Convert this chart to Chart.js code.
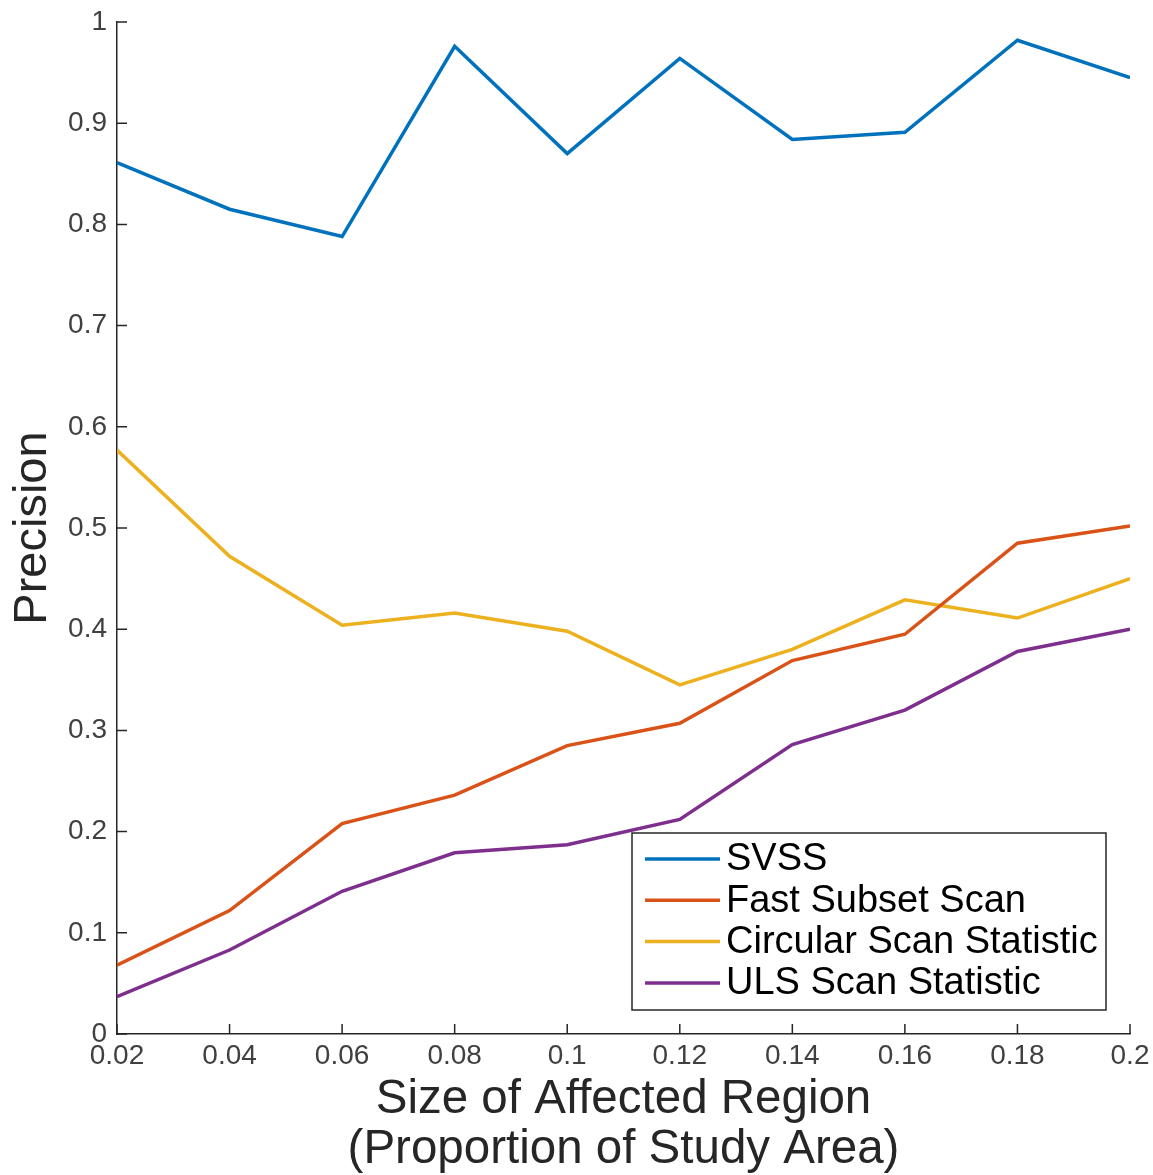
<!DOCTYPE html>
<html>
<head>
<meta charset="utf-8">
<script src="https://cdn.jsdelivr.net/npm/chart.js@4.4.1/dist/chart.umd.min.js"></script>
<style>
  html, body { margin: 0; padding: 0; background: #ffffff; }
  #wrap { width: 1153px; height: 1175px; }
</style>
</head>
<body>
<div id="wrap"><canvas id="c" width="1153" height="1175"></canvas></div>
<script>
// ---- data ----
const sizes = [0.02, 0.04, 0.06, 0.08, 0.10, 0.12, 0.14, 0.16, 0.18, 0.20];
const svss = [0.861, 0.815, 0.788, 0.976, 0.870, 0.964, 0.884, 0.891, 0.982, 0.945];
const fastSubsetScan = [0.068, 0.122, 0.208, 0.236, 0.285, 0.307, 0.369, 0.395, 0.485, 0.502];
const circularScan = [0.577, 0.472, 0.404, 0.416, 0.398, 0.345, 0.380, 0.429, 0.411, 0.450];
const ulsScan = [0.037, 0.083, 0.141, 0.179, 0.187, 0.212, 0.286, 0.320, 0.378, 0.400];
const seriesNames = ['SVSS', 'Fast Subset Scan', 'Circular Scan Statistic', 'ULS Scan Statistic'];
const xTickValues = [0.02, 0.04, 0.06, 0.08, 0.1, 0.12, 0.14, 0.16, 0.18, 0.2];
const xTickLabels = ['0.02', '0.04', '0.06', '0.08', '0.1', '0.12', '0.14', '0.16', '0.18', '0.2'];
const yTickValues = [0, 0.1, 0.2, 0.3, 0.4, 0.5, 0.6, 0.7, 0.8, 0.9, 1];
const yTickLabels = ['0', '0.1', '0.2', '0.3', '0.4', '0.5', '0.6', '0.7', '0.8', '0.9', '1'];
const xTitle = ['Size of Affected Region', '(Proportion of Study Area)'];
const yTitle = 'Precision';

// ---- styling ----
const colors = ['#0072BD', '#D95319', '#EDB120', '#7E2F8E'];
const FONT = '"Liberation Sans", Arial, Helvetica, sans-serif';
const AXIS_COLOR = '#262626';

const seriesValues = [svss, fastSubsetScan, circularScan, ulsScan];
const datasets = seriesValues.map((vals, i) => ({
  label: seriesNames[i],
  data: sizes.map((s, j) => ({ x: s, y: vals[j] })),
  borderColor: colors[i],
  backgroundColor: colors[i],
  borderWidth: 3.5,
  pointRadius: 0,
  tension: 0,
  fill: false
}));

// inward tick marks drawn through the scales
const innerTicks = {
  id: 'innerTicks',
  afterDatasetsDraw(chart) {
    const ctx = chart.ctx;
    const xs = chart.scales.x, ys = chart.scales.y;
    const len = 10;
    ctx.save();
    ctx.strokeStyle = AXIS_COLOR;
    ctx.lineWidth = 1.5;
    ctx.beginPath();
    xTickValues.forEach(v => {
      const px = xs.getPixelForValue(v);
      ctx.moveTo(px, ys.bottom);
      ctx.lineTo(px, ys.bottom - len);
    });
    yTickValues.forEach(v => {
      const py = ys.getPixelForValue(v);
      ctx.moveTo(xs.left, py);
      ctx.lineTo(xs.left + len, py);
    });
    ctx.stroke();
    ctx.restore();
  }
};

// MATLAB-like boxed legend inside the plot area (lower right)
const boxLegend = {
  id: 'boxLegend',
  afterDraw(chart) {
    const ctx = chart.ctx;
    const area = chart.chartArea;
    const w = 474, rowH = 41.3, h = 177;
    const right = area.right - 24, bottom = area.bottom - 24;
    const left = right - w, top = bottom - h;
    ctx.save();
    ctx.fillStyle = '#ffffff';
    ctx.fillRect(left, top, w, h);
    ctx.strokeStyle = AXIS_COLOR;
    ctx.lineWidth = 1.5;
    ctx.strokeRect(left, top, w, h);
    ctx.font = '38px ' + FONT;
    ctx.textBaseline = 'middle';
    ctx.textAlign = 'left';
    chart.data.datasets.forEach((ds, i) => {
      const cy = top + 26 + i * rowH;
      ctx.strokeStyle = ds.borderColor;
      ctx.lineWidth = 3.5;
      ctx.beginPath();
      ctx.moveTo(left + 13, cy);
      ctx.lineTo(left + 88, cy);
      ctx.stroke();
      ctx.fillStyle = '#000000';
      ctx.fillText(ds.label, left + 94, cy + 1);
    });
    ctx.restore();
  }
};

new Chart(document.getElementById('c'), {
  type: 'line',
  data: { datasets },
  options: {
    responsive: false,
    animation: false,
    layout: { padding: { top: 22, right: 23, left: 0, bottom: 0 } },
    plugins: { legend: { display: false }, tooltip: { enabled: false } },
    scales: {
      x: {
        type: 'linear',
        min: 0.02,
        max: 0.2,
        afterBuildTicks(scale) { scale.ticks = xTickValues.map(v => ({ value: v })); },
        afterFit(scale) { scale.height = 141; scale.paddingLeft = 0; scale.paddingRight = 0; },
        grid: { display: false, drawTicks: false },
        border: { display: true, color: AXIS_COLOR, width: 1.5 },
        ticks: {
          padding: 5,
          maxRotation: 0,
          autoSkip: false,
          color: '#404040',
          font: { family: FONT, size: 28 },
          callback(value, index) { return xTickLabels[index]; }
        },
        title: {
          display: true,
          text: xTitle,
          color: AXIS_COLOR,
          font: { family: FONT, size: 47.5, lineHeight: 1.053 },
          padding: { top: 0, bottom: 0 }
        }
      },
      y: {
        type: 'linear',
        min: 0,
        max: 1,
        afterBuildTicks(scale) { scale.ticks = yTickValues.map(v => ({ value: v })); },
        afterFit(scale) { scale.width = 117; scale.paddingTop = 0; scale.paddingBottom = 0; },
        grid: { display: false, drawTicks: false },
        border: { display: true, color: AXIS_COLOR, width: 1.5 },
        ticks: {
          padding: 10,
          autoSkip: false,
          color: '#404040',
          font: { family: FONT, size: 28 },
          callback(value, index) { return yTickLabels[index]; }
        },
        title: {
          display: true,
          text: yTitle,
          color: AXIS_COLOR,
          font: { family: FONT, size: 47, lineHeight: 1.064 },
          padding: { top: 8, bottom: 0 }
        }
      }
    }
  },
  plugins: [innerTicks, boxLegend]
});
</script>
</body>
</html>
